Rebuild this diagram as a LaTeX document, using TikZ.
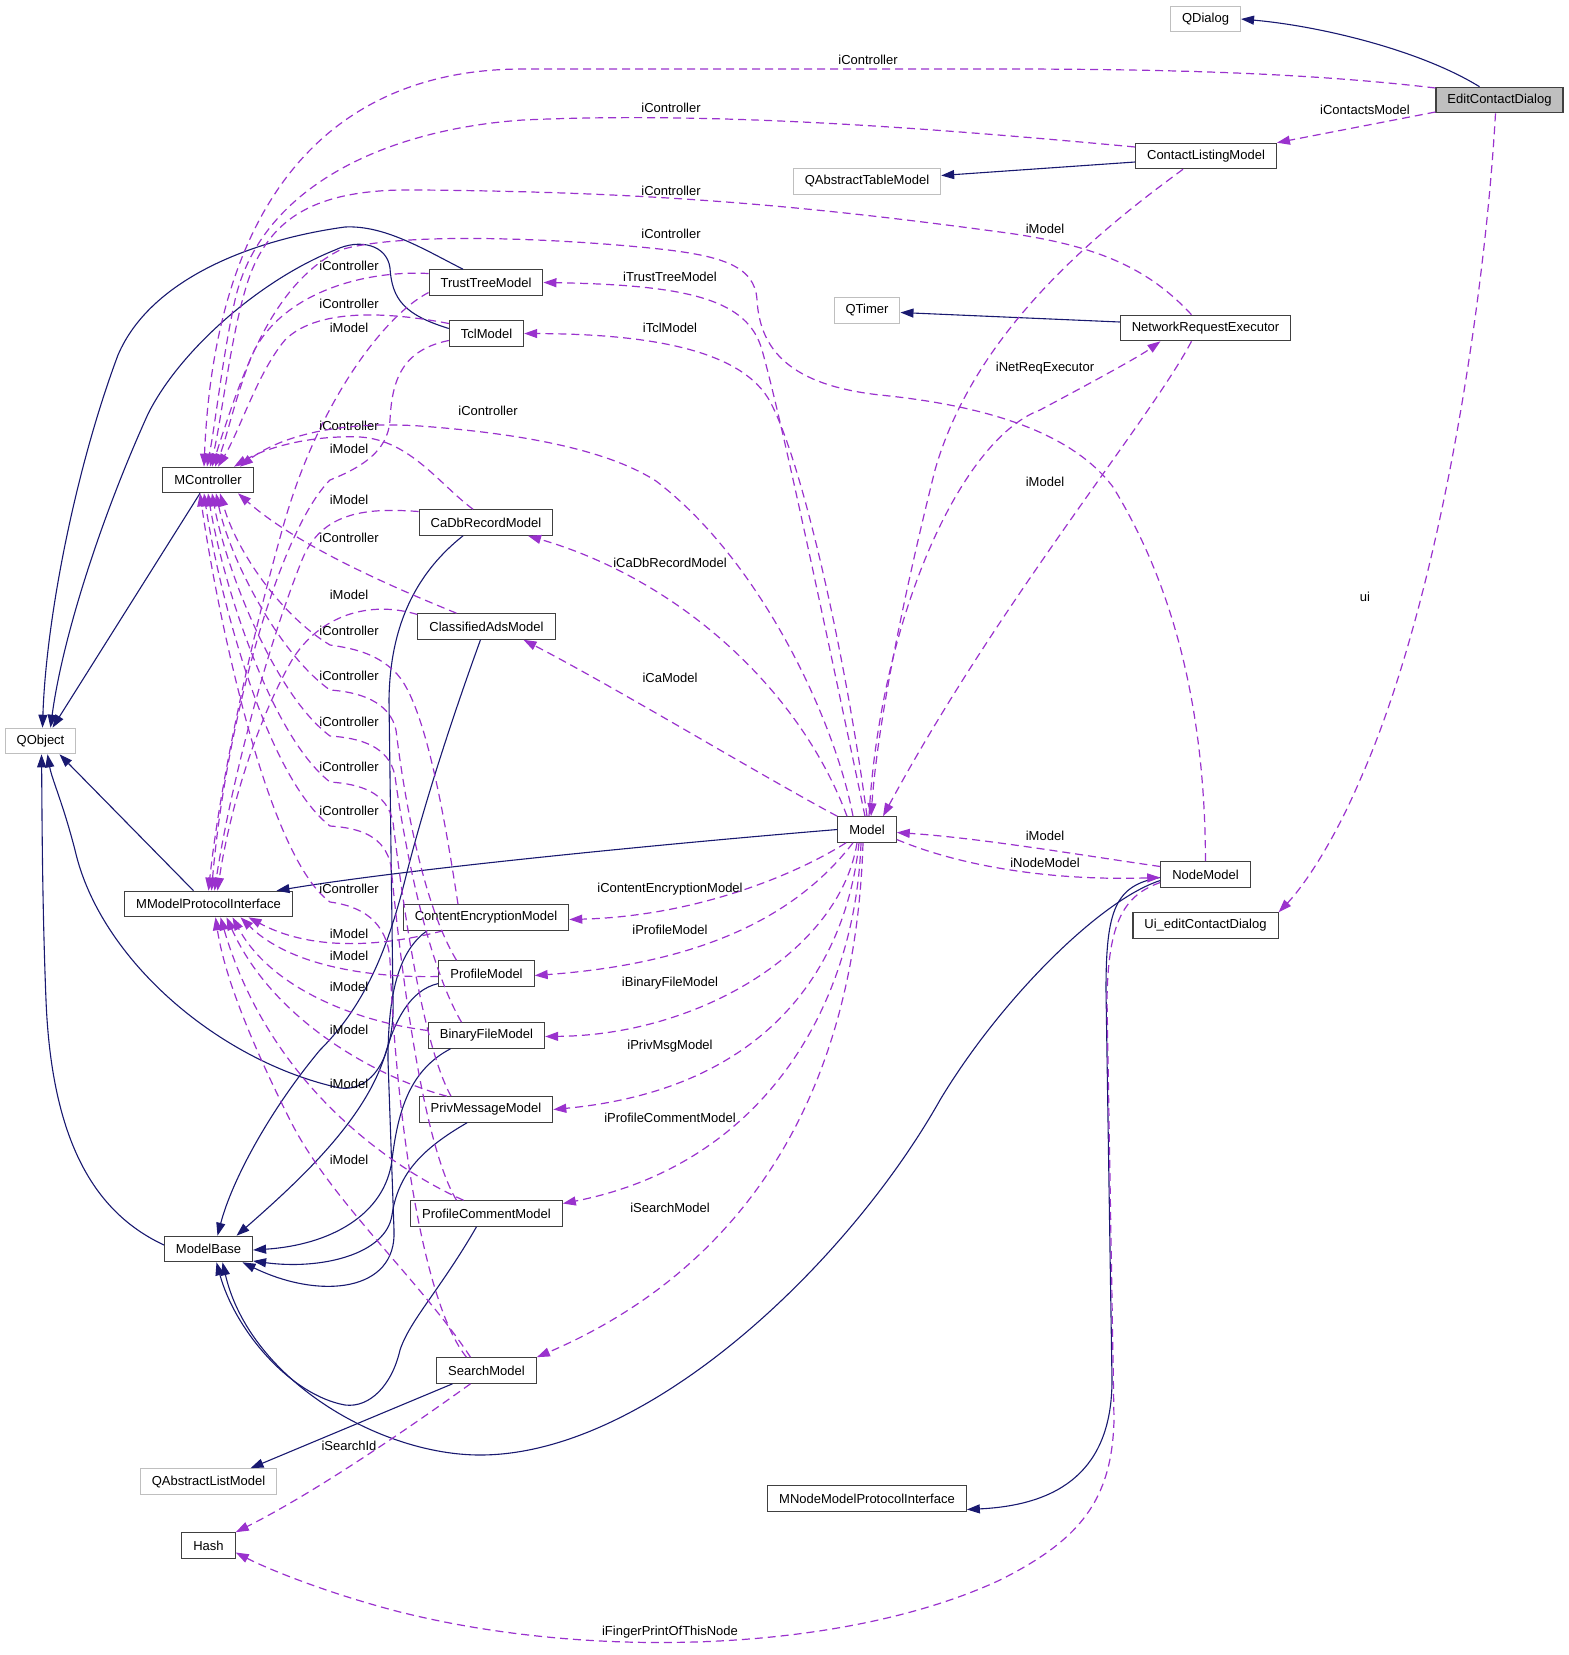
\documentclass[tikz,border=0pt]{standalone}
\usepackage{fontspec}
\setmainfont{Liberation Sans}
\usetikzlibrary{arrows.meta}
\definecolor{inhblue}{RGB}{25, 25, 112}
\definecolor{usepurple}{RGB}{154, 50, 205}
\definecolor{extgray}{RGB}{191, 191, 191}
\definecolor{boxline}{RGB}{64, 64, 64}

\begin{document}
\begin{tikzpicture}[
  x=1pt, y=-1pt,
  cls/.style={draw=boxline, line width=1.1pt, fill=white, minimum height=25.5pt,
              inner xsep=11.5pt, inner ysep=0pt, font=\fontsize{13}{15}\selectfont},
  extcls/.style={cls, draw=extgray},
  inhline/.style={-{Triangle[length=13pt, width=9pt]}, draw=inhblue, line width=1.1pt},
  useline/.style={-{Triangle[length=13pt, width=9pt]}, draw=usepurple, line width=1.2pt,
                  dash pattern=on 8pt off 5pt},
  lbl/.style={font=\fontsize{13}{15}\selectfont, inner sep=0pt}
]
  \useasboundingbox (0,0) rectangle (1569,1655);

  % classes
  \node[extcls] (qdialog) at (1205.5,19) {QDialog};
  \node[cls, fill=extgray] (editdlg) at (1499.5,100) {EditContactDialog};
  \node[cls] (clm) at (1206,156) {ContactListingModel};
  \node[extcls] (qatm) at (867,181.5) {QAbstractTableModel};
  \node[extcls] (qtimer) at (867,310.5) {QTimer};
  \node[cls] (nre) at (1205.5,328) {NetworkRequestExecutor};
  \node[cls] (ttm) at (486,282.5) {TrustTreeModel};
  \node[cls] (tcl) at (486.5,333.5) {TclModel};
  \node[cls] (mctl) at (208,480) {MController};
  \node[extcls] (qobject) at (40.5,741) {QObject};
  \node[cls] (cadb) at (486,522.5) {CaDbRecordModel};
  \node[cls] (cads) at (486.5,626.5) {ClassifiedAdsModel};
  \node[cls] (model) at (867,829.5) {Model};
  \node[cls] (mmpi) at (208.5,904) {MModelProtocolInterface};
  \node[cls] (nodemodel) at (1205.5,874.5) {NodeModel};
  \node[cls] (uiedit) at (1205.5,925.5) {Ui\_editContactDialog};
  \node[cls] (cenc) at (486,917.5) {ContentEncryptionModel};
  \node[cls] (profile) at (486.5,973.5) {ProfileModel};
  \node[cls] (binary) at (486.5,1035.5) {BinaryFileModel};
  \node[cls] (priv) at (486,1109.5) {PrivMessageModel};
  \node[cls] (pcomment) at (486.5,1213.5) {ProfileCommentModel};
  \node[cls] (modelbase) at (208.5,1249) {ModelBase};
  \node[cls] (search) at (486.5,1370.5) {SearchModel};
  \node[extcls] (qalm) at (208.5,1481.5) {QAbstractListModel};
  \node[cls] (mnmpi) at (867,1498.5) {MNodeModelProtocolInterface};
  \node[cls] (hash) at (208.5,1545.5) {Hash};

  % inheritance
  \draw[inhline] ([xshift=-20pt]editdlg.north) .. controls (1420,50) and (1320,26) .. (qdialog.east);
  \draw[inhline] ([yshift=-6pt]clm.west) -- ([yshift=6pt]qatm.east);
  \draw[inhline] ([yshift=6pt]nre.west) -- ([yshift=-2pt]qtimer.east);
  \draw[inhline] ([xshift=-23pt]ttm.north) .. controls (425,250) and (385,225) .. (345,227)
    .. controls (250,240) and (150,280) .. (118,355) .. controls (75,470) and (46,620) .. ([xshift=2pt]qobject.north);
  \draw[inhline] ([yshift=5pt]tcl.west) .. controls (405,315) and (392,300) .. (390,268)
    .. controls (387,245) and (360,238) .. (335,250) .. controls (260,280) and (180,350) .. (148,414)
    .. controls (100,520) and (62,640) .. ([xshift=10pt]qobject.north);
  \draw[inhline] ([xshift=-8pt]mctl.south) -- ([xshift=12pt]qobject.north);
  \draw[inhline] ([xshift=-15pt]mmpi.north) -- ([xshift=19pt]qobject.south);
  \draw[inhline] (model.west) .. controls (650,845) and (400,870) .. ([xshift=68pt]mmpi.north);
  \draw[inhline] ([yshift=4pt]modelbase.west) .. controls (100,1215) and (52,1150) .. (46,1000)
    .. controls (42,900) and (42,800) .. ([xshift=1pt]qobject.south);
  \draw[inhline] ([xshift=-23pt]cadb.south) .. controls (420,570) and (390,620) .. (389,700) -- (393,1000)
    .. controls (395,1060) and (370,1092) .. (340,1088) .. controls (220,1062) and (100,960) .. (75,850)
    .. controls (62,800) and (52,780) .. ([xshift=7pt]qobject.south);
  \draw[inhline] ([xshift=-6pt]cads.south) .. controls (455,710) and (425,800) .. (405,880)
    .. controls (385,960) and (360,1010) .. (320,1050) .. controls (270,1110) and (232,1180) .. ([xshift=9pt]modelbase.north);
  \draw[inhline] ([yshift=-10pt]profile.west) .. controls (410,990) and (395,1020) .. (385,1055)
    .. controls (365,1120) and (300,1180) .. ([xshift=28pt]modelbase.north);
  \draw[inhline] ([xshift=-36pt]binary.south) .. controls (410,1070) and (398,1110) .. (392,1160)
    .. controls (385,1215) and (330,1245) .. ([yshift=-1pt]modelbase.east);
  \draw[inhline] ([xshift=-19pt]priv.south) .. controls (420,1150) and (398,1175) .. (392,1215)
    .. controls (386,1255) and (320,1270) .. ([yshift=-12pt]modelbase.east);
  \draw[inhline] ([xshift=-59pt]cenc.south) .. controls (400,950) and (388,990) .. (388,1060) -- (394,1230)
    .. controls (397,1292) and (320,1300) .. ([xshift=34pt]modelbase.south);
  \draw[inhline] ([xshift=-10pt]pcomment.south) .. controls (440,1290) and (410,1320) .. (400,1350)
    .. controls (392,1385) and (370,1408) .. (345,1405) .. controls (290,1395) and (235,1330) .. ([xshift=8pt]modelbase.south);
  \draw[inhline] ([yshift=-6pt]nodemodel.west) .. controls (1100,900) and (1000,1000) .. (940,1100)
    .. controls (850,1260) and (650,1455) .. (480,1455) .. controls (380,1455) and (250,1380) .. ([xshift=14pt]modelbase.south);
  \draw[inhline] ([yshift=-3pt]nodemodel.west) .. controls (1115,885) and (1106,910) .. (1106,990) -- (1112,1380)
    .. controls (1112,1470) and (1060,1505) .. ([yshift=-11pt]mnmpi.east);
  \draw[inhline] ([xshift=-34pt]search.south) -- ([xshift=42pt]qalm.north);

  % members, top
  \draw[useline] ([yshift=-12pt]editdlg.west) -- (clm.north east) node[lbl] at (1365,110) {iContactsModel};
  \draw[useline] ([yshift=12pt]editdlg.west) .. controls (1300,72) and (1150,69) .. (1000,69) -- (523,69)
    .. controls (330,69) and (215,200) .. ([xshift=-4pt]mctl.north) node[lbl] at (868,60) {iController};
  \draw[useline] ([xshift=-4pt]editdlg.south) .. controls (1485,300) and (1440,600) .. (1360,780)
    .. controls (1330,850) and (1300,890) .. (uiedit.north east) node[lbl] at (1365,597) {ui};
  \draw[useline] ([yshift=9pt]clm.west) .. controls (900,125) and (700,112) .. (523,120)
    .. controls (380,130) and (260,190) .. (235,300) .. controls (222,360) and (216,420) .. ([xshift=-1pt]mctl.north)
    node[lbl] at (671,108) {iController};
  \draw[useline] ([xshift=-14pt]nre.north) .. controls (1150,270) and (1100,245) .. (1000,232)
    .. controls (800,205) and (650,192) .. (420,190) .. controls (320,188) and (275,215) .. (252,270)
    .. controls (232,320) and (222,420) .. ([xshift=2pt]mctl.north) node[lbl] at (671,191) {iController};
  \draw[useline] (nodemodel.north) .. controls (1205,700) and (1170,580) .. (1113,487)
    .. controls (1070,430) and (980,405) .. (880,395) .. controls (790,385) and (760,350) .. (757,300)
    .. controls (755,265) and (720,255) .. (650,248) .. controls (550,238) and (400,232) .. (340,250)
    .. controls (270,285) and (240,380) .. ([xshift=4pt]mctl.north) node[lbl] at (671,234) {iController};
  \draw[useline] ([yshift=9pt]ttm.west) .. controls (360,270) and (280,295) .. (252,355)
    .. controls (236,395) and (226,440) .. ([xshift=7pt]mctl.north) node[lbl] at (349,266) {iController};
  \draw[useline] ([yshift=10pt]tcl.west) .. controls (400,314) and (320,305) .. (285,340)
    .. controls (258,372) and (240,430) .. ([xshift=10pt]mctl.north) node[lbl] at (349,304) {iController};
  \draw[useline] ([yshift=-10pt]ttm.west) .. controls (385,315) and (320,400) .. (285,520)
    .. controls (245,660) and (218,800) .. (mmpi.north) node[lbl] at (349,328) {iModel};
  \draw[useline] ([yshift=-7pt]tcl.west) .. controls (402,350) and (392,380) .. (390,420)
    .. controls (388,452) and (360,468) .. (330,480) .. controls (280,530) and (226,720) .. ([xshift=3pt]mmpi.north)
    node[lbl] at (349,449) {iModel};
  \draw[useline] ([xshift=-13pt]cadb.north) .. controls (440,485) and (410,440) .. (360,437)
    .. controls (310,435) and (265,448) .. ([xshift=26pt]mctl.north) node[lbl] at (349,426) {iController};
  \draw[useline] ([yshift=11pt]cadb.west) .. controls (370,508) and (322,510) .. (302,560)
    .. controls (262,660) and (228,800) .. ([xshift=6pt]mmpi.north) node[lbl] at (349,500) {iModel};
  \draw[useline] ([xshift=-14pt]model.north) .. controls (835,720) and (760,560) .. (656,481)
    .. controls (600,445) and (500,432) .. (420,426) .. controls (330,420) and (275,440) .. ([xshift=32pt]mctl.north)
    node[lbl] at (488,411) {iController};
  \draw[useline] ([xshift=-30pt]cads.north) .. controls (400,590) and (300,548) .. ([xshift=30pt]mctl.south)
    node[lbl] at (349,538) {iController};
  \draw[useline] ([yshift=12pt]cads.west) .. controls (370,600) and (320,615) .. (292,660)
    .. controls (252,730) and (228,820) .. ([xshift=9pt]mmpi.north) node[lbl] at (349,595) {iModel};

  % members, lower models to MController
  \draw[useline] ([xshift=-28pt]cenc.north) .. controls (445,820) and (425,700) .. (395,672)
    .. controls (375,652) and (350,648) .. (330,645) .. controls (280,615) and (236,550) .. ([xshift=12pt]mctl.south)
    node[lbl] at (349,631) {iController};
  \draw[useline] ([xshift=-30pt]profile.north) .. controls (420,900) and (402,780) .. (396,730)
    .. controls (390,702) and (360,692) .. (330,690) .. controls (280,655) and (230,560) .. ([xshift=8pt]mctl.south)
    node[lbl] at (349,676) {iController};
  \draw[useline] ([xshift=-25pt]binary.north) .. controls (425,960) and (402,830) .. (395,776)
    .. controls (389,746) and (360,738) .. (330,736) .. controls (275,695) and (226,570) .. ([xshift=4pt]mctl.south)
    node[lbl] at (349,722) {iController};
  \draw[useline] ([xshift=-35pt]priv.north) .. controls (420,1040) and (400,880) .. (393,822)
    .. controls (387,792) and (360,784) .. (330,782) .. controls (270,735) and (222,580) .. (mctl.south)
    node[lbl] at (349,767) {iController};
  \draw[useline] ([xshift=-30pt]pcomment.north) .. controls (420,1140) and (398,940) .. (391,866)
    .. controls (385,836) and (360,828) .. (330,826) .. controls (265,775) and (218,590) .. ([xshift=-4pt]mctl.south)
    node[lbl] at (349,811) {iController};
  \draw[useline] ([xshift=-20pt]search.north) .. controls (420,1300) and (395,1100) .. (390,960)
    .. controls (387,920) and (360,906) .. (330,902) .. controls (265,855) and (215,600) .. ([xshift=-8pt]mctl.south)
    node[lbl] at (349,889) {iController};

  % members, lower models to MModelProtocolInterface
  \draw[useline] ([xshift=-43pt]cenc.south) .. controls (360,952) and (300,945) .. ([xshift=40pt]mmpi.south)
    node[lbl] at (349,934) {iModel};
  \draw[useline] ([yshift=-3pt]profile.west) .. controls (370,978) and (290,966) .. ([xshift=32pt]mmpi.south)
    node[lbl] at (349,956) {iModel};
  \draw[useline] ([yshift=5pt]binary.west) .. controls (360,1022) and (272,990) .. ([xshift=24pt]mmpi.south)
    node[lbl] at (349,987) {iModel};
  \draw[useline] ([xshift=-39pt]priv.north) .. controls (385,1080) and (275,1025) .. ([xshift=18pt]mmpi.south)
    node[lbl] at (349,1030) {iModel};
  \draw[useline] ([xshift=-23pt]pcomment.north) .. controls (385,1165) and (268,1080) .. ([xshift=12pt]mmpi.south)
    node[lbl] at (349,1084) {iModel};
  \draw[useline] ([xshift=-16pt]search.north) .. controls (420,1280) and (330,1200) .. (290,1120)
    .. controls (255,1050) and (225,980) .. ([xshift=7pt]mmpi.south) node[lbl] at (349,1160) {iModel};
  \draw[useline] ([xshift=-16pt]search.south) .. controls (420,1420) and (320,1490) .. (hash.north east)
    node[lbl] at (349,1446) {iSearchId};

  % members of Model
  \draw[useline] ([xshift=-2pt]model.north) .. controls (830,650) and (782,420) .. (762,350)
    .. controls (748,300) and (690,285) .. (ttm.east) node[lbl] at (670,277) {iTrustTreeModel};
  \draw[useline] (model.north) .. controls (845,650) and (800,452) .. (768,398)
    .. controls (738,350) and (650,334) .. (tcl.east) node[lbl] at (670,328) {iTclModel};
  \draw[useline] ([xshift=-20pt]model.north) .. controls (800,690) and (680,580) .. ([xshift=42pt]cadb.south)
    node[lbl] at (670,563) {iCaDbRecordModel};
  \draw[useline] (model.north west) .. controls (760,775) and (620,690) .. ([xshift=37pt]cads.south)
    node[lbl] at (670,678) {iCaModel};
  \draw[useline] ([xshift=-21pt]model.south) .. controls (800,872) and (700,916) .. ([yshift=-2pt]cenc.east)
    node[lbl] at (670,889) {iContentEncryptionModel};
  \draw[useline] ([xshift=-14pt]model.south) .. controls (805,905) and (720,962) .. ([yshift=-2pt]profile.east)
    node[lbl] at (670,930) {iProfileModel};
  \draw[useline] ([xshift=-10pt]model.south) .. controls (840,950) and (700,1035) .. ([yshift=-1pt]binary.east)
    node[lbl] at (670,983) {iBinaryFileModel};
  \draw[useline] ([xshift=-8pt]model.south) .. controls (845,975) and (760,1090) .. (priv.east)
    node[lbl] at (670,1046) {iPrivMsgModel};
  \draw[useline] ([xshift=-6pt]model.south) .. controls (855,1010) and (760,1165) .. ([yshift=10pt]pcomment.east)
    node[lbl] at (670,1118) {iProfileCommentModel};
  \draw[useline] ([xshift=-4pt]model.south) .. controls (855,1100) and (740,1270) .. (search.north east)
    node[lbl] at (670,1208) {iSearchModel};
  \draw[useline] ([xshift=2pt]model.north) .. controls (880,620) and (960,440) .. (1040,410)
    .. controls (1100,378) and (1140,356) .. ([xshift=-45pt]nre.south) node[lbl] at (1045,368) {iNetReqExecutor};
  \draw[useline] ([yshift=-10pt]model.east) .. controls (960,866) and (1050,881) .. ([yshift=-3pt]nodemodel.west)
    node[lbl] at (1045,863) {iNodeModel};

  % members pointing back to Model, and NodeModel to Hash
  \draw[useline] ([xshift=-14pt]nre.south) .. controls (1150,420) and (1000,600) .. ([xshift=16pt]model.north)
    node[lbl] at (1045,482) {iModel};
  \draw[useline] ([xshift=-23pt]clm.south) .. controls (1100,230) and (975,330) .. (935,470)
    .. controls (905,590) and (878,720) .. ([xshift=4pt]model.north) node[lbl] at (1045,229) {iModel};
  \draw[useline] ([yshift=8pt]nodemodel.west) .. controls (1080,855) and (980,838) .. ([yshift=-3pt]model.east)
    node[lbl] at (1045,836) {iModel};
  \draw[useline] ([yshift=-8pt]nodemodel.west) .. controls (1125,895) and (1108,920) .. (1107,1000) -- (1114,1420)
    .. controls (1112,1500) and (1080,1540) .. (1000,1580) .. controls (850,1650) and (600,1662) .. (400,1612)
    .. controls (330,1594) and (270,1570) .. ([yshift=-7pt]hash.east) node[lbl] at (670,1632) {iFingerPrintOfThisNode};
\end{tikzpicture}
\end{document}
